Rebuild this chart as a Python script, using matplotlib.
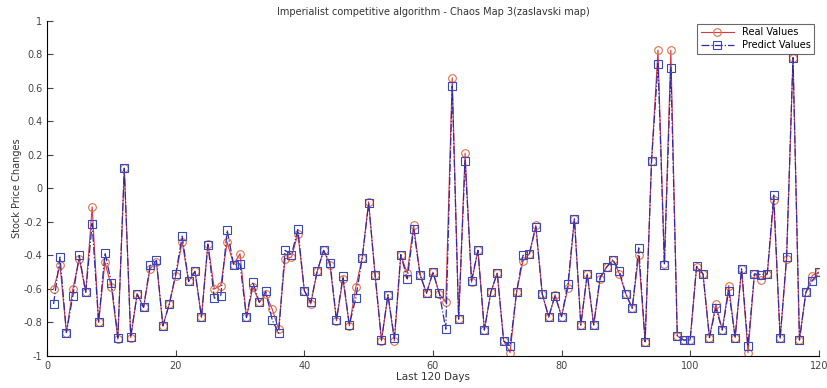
import numpy as np
import matplotlib
matplotlib.use("Agg")
import matplotlib.pyplot as plt

# day index and the two series
days = np.arange(1, 121)

real_values = [
    -0.60, -0.46, -0.86, -0.60, -0.42, -0.62, -0.11, -0.80, -0.44, -0.59,
    -0.90, 0.12, -0.89, -0.63, -0.71, -0.48, -0.44, -0.82, -0.69, -0.52,
    -0.32, -0.555, -0.495, -0.77, -0.33, -0.60, -0.58, -0.32, -0.455, -0.39,
    -0.77, -0.59, -0.68, -0.63, -0.72, -0.84, -0.42, -0.41, -0.27, -0.61,
    -0.69, -0.495, -0.37, -0.46, -0.79, -0.54, -0.82, -0.59, -0.415, -0.08,
    -0.515, -0.91, -0.635, -0.91, -0.40, -0.505, -0.22, -0.515, -0.625, -0.50,
    -0.63, -0.68, 0.66, -0.78, 0.21, -0.56, -0.37, -0.845, -0.62, -0.505,
    -0.91, -0.98, -0.62, -0.435, -0.39, -0.22, -0.63, -0.77, -0.635, -0.765,
    -0.595, -0.18, -0.815, -0.51, -0.815, -0.54, -0.47, -0.43, -0.51, -0.63,
    -0.715, -0.40, -0.915, 0.165, 0.825, -0.45, 0.825, -0.88, -0.905, -0.905,
    -0.47, -0.51, -0.89, -0.69, -0.845, -0.58, -0.89, -0.48, -0.98, -0.51,
    -0.545, -0.51, -0.07, -0.895, -0.42, 0.78, -0.905, -0.62, -0.52, -0.50,
]

predict_values = [
    -0.69, -0.41, -0.86, -0.64, -0.40, -0.62, -0.21, -0.80, -0.385, -0.565,
    -0.89, 0.12, -0.885, -0.63, -0.71, -0.46, -0.43, -0.82, -0.69, -0.51,
    -0.285, -0.555, -0.495, -0.77, -0.335, -0.655, -0.64, -0.25, -0.455, -0.45,
    -0.77, -0.56, -0.68, -0.615, -0.785, -0.865, -0.37, -0.395, -0.245, -0.61,
    -0.68, -0.495, -0.37, -0.445, -0.785, -0.525, -0.815, -0.655, -0.415, -0.09,
    -0.515, -0.905, -0.635, -0.895, -0.395, -0.54, -0.245, -0.515, -0.625, -0.50,
    -0.625, -0.84, 0.61, -0.78, 0.165, -0.55, -0.37, -0.845, -0.62, -0.505,
    -0.91, -0.94, -0.62, -0.40, -0.39, -0.23, -0.63, -0.765, -0.64, -0.765,
    -0.57, -0.18, -0.815, -0.51, -0.815, -0.53, -0.47, -0.425, -0.495, -0.63,
    -0.715, -0.355, -0.915, 0.165, 0.745, -0.455, 0.72, -0.88, -0.905, -0.905,
    -0.465, -0.51, -0.89, -0.715, -0.845, -0.61, -0.89, -0.48, -0.94, -0.51,
    -0.515, -0.51, -0.04, -0.895, -0.41, 0.78, -0.905, -0.62, -0.55, -0.50,
]

x_ticks = [0, 20, 40, 60, 80, 100, 120]
y_ticks = [-1, -0.8, -0.6, -0.4, -0.2, 0, 0.2, 0.4, 0.6, 0.8, 1]
y_labels = ["-1", "-0.8", "-0.6", "-0.4", "-0.2", "0", "0.2", "0.4", "0.6", "0.8", "1"]

fig = plt.figure(figsize=(8.27, 3.88), dpi=100)
ax = fig.add_axes([0.057, 0.0825, 0.933, 0.864])

ax.plot(days, real_values, '-', color='#d83848', lw=0.8, marker='o', ms=5.5,
        mfc='none', mec='#e07048', mew=0.8, label='Real Values')
ax.plot(days, predict_values, '-.', color='#3028a8', lw=0.9, marker='s', ms=5.5,
        mfc='none', mec='#3848b8', mew=0.8, label='Predict Values')

ax.set_xlim(0, 120)
ax.set_ylim(-1, 1)
ax.set_xticks(x_ticks)
ax.set_yticks(y_ticks)
ax.set_yticklabels(y_labels)
ax.tick_params(direction='in', labelsize=7, colors='#444444', length=4)
ax.spines['top'].set_visible(False)
ax.spines['right'].set_visible(False)

ax.set_title('Imperialist competitive algorithm - Chaos Map 3(zaslavski map)',
             fontsize=7, color='#333333', pad=4)
ax.set_xlabel('Last 120 Days', fontsize=7.5, color='#333333', labelpad=1)
ax.set_ylabel('Stock Price Changes', fontsize=7, color='#333333', labelpad=1)

leg = ax.legend(loc='upper right', fontsize=7, frameon=True, fancybox=False,
                borderpad=0.35, labelspacing=0.3, handlelength=3.4,
                bbox_to_anchor=(1.0, 1.005))
leg.get_frame().set_edgecolor('#444444')
leg.get_frame().set_linewidth(0.8)

fig.savefig('out.png', dpi=100)
